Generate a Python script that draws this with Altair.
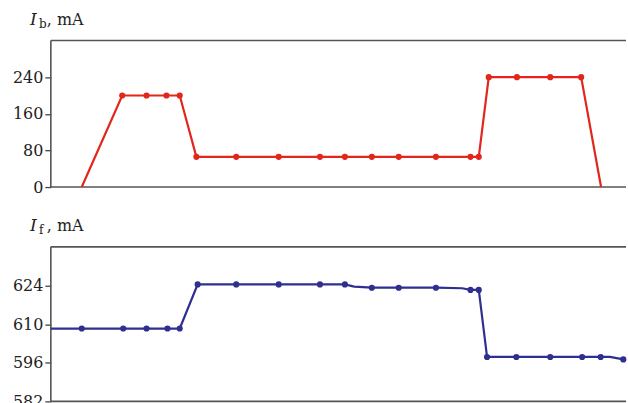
import altair as alt
import pandas as pd

# Top panel: base current I_b (mA) vs time (arbitrary units, x axis unlabeled)
t_b = [31, 71.6, 96, 116, 129.3, 146, 186, 228.6, 270, 295, 322, 349, 386.3, 421, 429.3,
       439.3, 467.6, 501, 532, 552]
ib_vals = [0, 200, 200, 200, 200, 66, 66, 66, 66, 66, 66, 66, 66, 66, 66,
           240, 240, 240, 240, 0]
b_dot = [False, True, True, True, True, True, True, True, True, True, True, True, True, True, True,
         True, True, True, True, False]

# Bottom panel: I_f (mA)
t_f = [0, 31, 72.6, 96, 117, 129.3, 147.3, 186, 228.6, 270, 295, 304.3, 322, 349, 386.3, 412.6,
       421, 429.3, 437.6, 467, 501, 533, 551.6, 561, 574.3]
if_vals = [608.4, 608.4, 608.4, 608.4, 608.4, 608.4, 624.4, 624.4, 624.4, 624.4, 624.4, 623.6,
           623.2, 623.2, 623.2, 623.0, 622.4, 622.4, 598.1, 598.1, 598.1, 598.1, 598.1, 598.1, 597.2]
f_dot = [False, True, True, True, True, True, True, True, True, True, True, False,
         True, True, True, False, True, True, True, True, True, True, True, False, True]

ib_ticks = [0, 80, 160, 240]
if_ticks = [582, 596, 610, 624]

df_b = pd.DataFrame({"t": t_b, "v": ib_vals, "dot": b_dot})
df_f = pd.DataFrame({"t": t_f, "v": if_vals, "dot": f_dot})

RED = "#e3261c"
BLUE = "#2e2f8f"
FRAME = "#555555"
FONT = "DejaVu Serif"
W = 577
X_DOM = [0, 577]


def one(c):
    return c.transform_window(r="row_number()").transform_filter("datum.r == 1")


def panel(df, color, dom, ticks, h, sub):
    x = alt.X("t:Q", scale=alt.Scale(domain=X_DOM, nice=False, zero=False), axis=None)
    y = alt.Y("v:Q", scale=alt.Scale(domain=dom, nice=False, zero=False),
              axis=alt.Axis(values=ticks, title=None, grid=False, domain=False,
                            tickSize=6, tickColor="#444", tickWidth=1.3,
                            labelFont=FONT, labelFontSize=16, labelColor="#222",
                            labelPadding=2))
    base = alt.Chart(df)
    line = base.mark_line(color=color, strokeWidth=2.2).encode(x=x, y=y)
    pts = base.transform_filter("datum.dot").mark_point(
        filled=True, color=color, size=38, opacity=1).encode(x=x, y=y)
    top_b = one(base.mark_rule(color=FRAME, strokeWidth=1.6).encode(y=alt.value(0)))
    bot_b = one(base.mark_rule(color=FRAME, strokeWidth=1.6).encode(y=alt.value(h)))
    left_b = one(base.mark_rule(color=FRAME, strokeWidth=1.6).encode(x=alt.value(0)))
    t1 = one(base.mark_text(text="I", font=FONT, fontSize=17, fontStyle="italic",
                            align="left", baseline="alphabetic", color="#222").encode(
        x=alt.value(-21), y=alt.value(-15.5)))
    t2 = one(base.mark_text(text=sub, font=FONT, fontSize=12,
                            align="left", baseline="alphabetic", color="#222").encode(
        x=alt.value(-12), y=alt.value(-12.5)))
    t3 = one(base.mark_text(text=", mA", font=FONT, fontSize=16,
                            align="left", baseline="alphabetic", color="#222").encode(
        x=alt.value(-4), y=alt.value(-15.5)))
    return alt.layer(top_b, bot_b, left_b, line, pts, t1, t2, t3).properties(width=W, height=h)


top = panel(df_b, RED, [0, 320], ib_ticks, 147, "b")
bot = panel(df_f, BLUE, [582, 638], if_ticks, 155, "f")

chart = alt.vconcat(top, bot, spacing=22).properties(
    padding={"left": 12, "top": 10, "right": 0, "bottom": 0},
    background="white",
).configure_view(stroke=None)

chart.save("out.html", embed_options={"renderer": "svg", "actions": False})
